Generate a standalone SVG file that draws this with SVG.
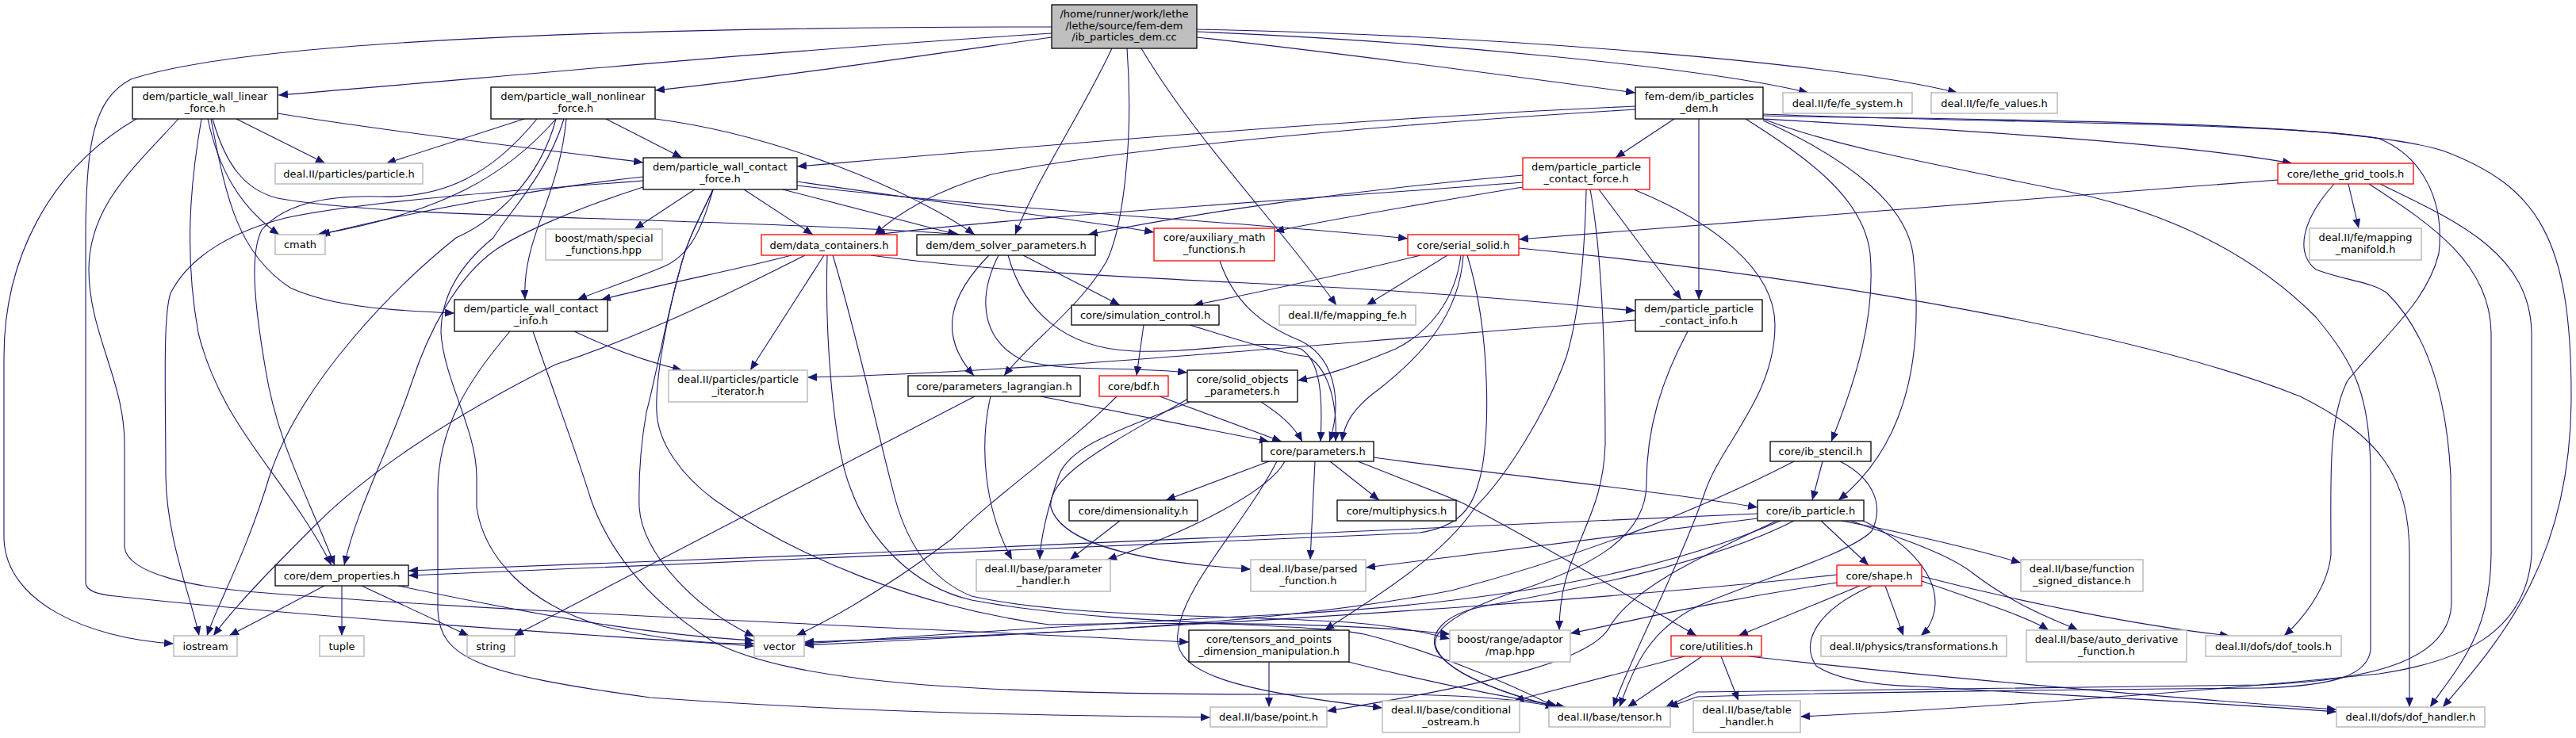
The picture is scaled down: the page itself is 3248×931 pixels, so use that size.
<svg xmlns="http://www.w3.org/2000/svg" width="3248" height="931" viewBox="0 0 3248 931">
<defs>
<marker id="arr" viewBox="0 0 12 10" refX="12" refY="5" markerWidth="12" markerHeight="10" markerUnits="userSpaceOnUse" orient="auto"><path d="M0,0 L12,5 L0,10 Z" fill="#191970"/></marker>
<style>
.e path{fill:none;stroke:#191970;stroke-width:1.1;marker-end:url(#arr)}
.n rect{fill:#fff;stroke:#000;stroke-width:1.3}
.g rect{fill:#fff;stroke:#bfbfbf;stroke-width:1.6}
.r rect{fill:#fff;stroke:#ff0000;stroke-width:1.3}
.root rect{fill:#bfbfbf;stroke:#000;stroke-width:1.3}
text{font-family:"DejaVu Sans","Liberation Sans",sans-serif;font-size:13px;text-anchor:middle;fill:#000}
</style>
</defs>
<rect width="3248" height="931" fill="#fff"/>
<g id="edges" class="e">
<path d="M1326,42 C1000,62 620,98 351,120"/>
<path d="M1326,47 C1150,72 960,100 826,114"/>
<path d="M1326,34 C900,34 330,45 165,100 C118,125 108,180 108,300 L108,735 C108,746 125,750 145,752 C400,780 760,802 951,815"/>
<path d="M1509,47 C1700,68 1900,95 2062,117"/>
<path d="M1509,40 C1800,52 2150,85 2280,117"/>
<path d="M1509,37 C1900,45 2320,80 2468,117"/>
<path d="M1402,61 C1360,150 1310,220 1280,296"/>
<path d="M1421,61 C1430,180 1415,290 1395,330 C1360,390 1300,430 1266,474"/>
<path d="M1439,61 C1510,180 1610,280 1685,385"/>
<path d="M172,150 C60,215 5,330 5,450 L5,680 C8,760 110,805 219,812"/>
<path d="M225,150 C170,210 112,260 112,340 C112,420 157,480 157,560 L157,690 C160,725 250,742 335,748 C600,770 1100,790 1499,810"/>
<path d="M254,150 C240,230 232,320 250,420 C280,540 360,600 418,713"/>
<path d="M262,150 C275,210 300,260 352,296"/>
<path d="M266,150 C285,250 300,320 366,363 C420,388 500,392 573,395"/>
<path d="M298,150 L410,206"/>
<path d="M268,150 C285,210 310,240 350,250 C450,268 650,272 820,278 C1000,284 1150,290 1210,296"/>
<path d="M350,143 C500,168 700,190 811,205"/>
<path d="M661,150 L487,206"/>
<path d="M701,150 C640,220 560,268 400,296"/>
<path d="M714,150 C705,250 658,300 662,378"/>
<path d="M764,150 L860,199"/>
<path d="M826,150 C980,170 1150,240 1229,296"/>
<path d="M677,150 C620,220 560,250 480,248 C420,246 360,255 330,290 C315,320 320,380 335,467 C350,560 390,630 422,713"/>
<path d="M701,150 C680,230 620,280 575,300 C500,360 380,480 340,600 C310,700 275,760 261,802"/>
<path d="M711,150 C690,220 640,270 622,300 C585,330 556,370 556,420 C560,480 600,540 601,600 L601,640 C610,700 660,760 760,790 C850,810 900,812 951,812"/>
<path d="M811,228 C650,240 450,255 360,275 C300,290 240,320 215,370 C205,400 209,500 209,600 C210,680 240,750 251,802"/>
<path d="M811,223 C700,235 540,262 404,296"/>
<path d="M876,239 L800,289"/>
<path d="M899,239 C885,290 870,320 840,335 C800,352 760,365 728,378"/>
<path d="M938,239 L1025,296"/>
<path d="M987,239 L1207,296"/>
<path d="M1005,229 C1200,258 1380,280 1455,293"/>
<path d="M1005,234 C1300,268 1600,282 1775,301"/>
<path d="M899,239 C880,280 868,300 860,330 C840,400 826,480 815,520 C808,560 805,600 806,640 C810,700 880,770 951,803"/>
<path d="M899,239 C880,280 868,300 860,330 C840,400 826,480 828,520 C830,560 860,600 900,630 C1000,700 1150,765 1323,788 C1500,785 1700,785 1828,800"/>
<path d="M811,236 C720,265 655,295 625,315 C575,350 540,420 520,480 C490,570 450,640 434,713"/>
<path d="M998,322 C930,340 850,355 758,378"/>
<path d="M1015,322 C920,370 820,420 700,460 C560,530 460,600 400,660 C350,710 300,760 269,802"/>
<path d="M1039,322 L946,467"/>
<path d="M1043,322 C1040,420 1050,560 1072,615 C1095,680 1150,740 1225,757 C1400,790 1650,785 1720,800 C1800,820 1900,860 1961,892"/>
<path d="M1050,322 C1080,420 1110,560 1125,615 C1140,680 1170,730 1225,752 C1350,780 1550,775 1700,785 C1760,790 1800,798 1828,806"/>
<path d="M1098,322 C1300,350 1600,355 1800,370 C1950,380 2010,388 2062,392"/>
<path d="M1290,322 L1412,385"/>
<path d="M1247,322 C1200,370 1180,420 1228,474"/>
<path d="M1259,322 C1230,380 1240,430 1290,455 C1350,470 1420,462 1497,470"/>
<path d="M1271,322 C1290,390 1340,440 1430,443 C1520,446 1590,425 1640,440 C1665,455 1668,500 1665,557"/>
<path d="M1538,329 C1555,380 1590,410 1640,430 C1690,455 1690,520 1676,557"/>
<path d="M1442,410 L1433,474"/>
<path d="M1500,410 C1560,428 1610,445 1650,450 C1680,470 1686,520 1684,557"/>
<path d="M1462,500 L1616,557"/>
<path d="M1408,500 C1350,560 1260,620 1200,680 C1120,740 1050,780 1004,802"/>
<path d="M1312,500 L1600,557"/>
<path d="M1229,500 L648,802"/>
<path d="M1249,500 C1235,560 1240,640 1276,706"/>
<path d="M1590,507 C1610,520 1630,535 1642,557"/>
<path d="M1500,507 C1420,540 1350,560 1335,600 C1318,650 1312,680 1311,706"/>
<path d="M1498,503 C1400,560 1320,600 1325,640 C1340,690 1450,710 1577,718"/>
<path d="M1791,322 C1700,345 1580,370 1505,385"/>
<path d="M1825,322 L1723,385"/>
<path d="M1842,322 C1835,380 1800,420 1760,440 C1700,465 1670,474 1636,480"/>
<path d="M1845,322 C1840,400 1790,450 1740,490 C1705,515 1695,535 1692,557"/>
<path d="M1850,322 C1880,420 1880,560 1864,610 C1855,645 1835,665 1790,672 C1300,695 800,714 515,726"/>
<path d="M1915,313 C2300,350 2700,420 2900,500 C3000,550 3038,600 3038,700 L3038,892"/>
<path d="M1920,221 C1700,240 1500,270 1372,296"/>
<path d="M1920,230 C1600,255 1300,272 1104,296"/>
<path d="M1920,236 C1800,256 1680,276 1607,292"/>
<path d="M2016,239 L2120,378"/>
<path d="M2060,239 C2160,280 2238,340 2238,410 C2238,500 2170,560 2150,620 C2115,720 2060,820 2034,892"/>
<path d="M2000,239 C1998,330 1990,400 1975,450 C1950,520 1900,600 1860,640 C1820,700 1740,750 1670,795"/>
<path d="M2005,239 C2020,320 2024,450 2024,560 C2022,620 2005,650 1985,700 C1972,730 1966,760 1966,795"/>
<path d="M2062,134 C1700,150 1300,185 1005,210"/>
<path d="M2062,138 C1700,160 1400,190 1250,220 C1180,240 1130,270 1103,296"/>
<path d="M2111,150 L2037,199"/>
<path d="M2142,150 L2142,378"/>
<path d="M2201,150 C2280,200 2350,250 2358,320 C2365,400 2340,480 2309,557"/>
<path d="M2223,152 C2330,200 2410,260 2413,330 C2425,450 2405,560 2318,631"/>
<path d="M2223,150 C2450,163 2750,180 2890,206"/>
<path d="M2223,146 C2500,152 2950,150 3080,190 C3200,235 3242,300 3242,500 C3242,700 3160,800 3080,892"/>
<path d="M2223,144 C2500,155 2900,155 3000,175 C3060,200 3082,260 3075,320 C3060,380 3010,420 2960,480 C2935,530 2939,600 2939,700 C2935,740 2905,780 2880,802"/>
<path d="M2223,150 C2300,180 2400,200 2600,240 C2750,270 2850,330 2920,400 C2970,460 2989,500 2989,600 L2989,820 C2985,850 2950,865 2850,868 C2600,870 2300,874 2140,879 L2104,892"/>
<path d="M2872,227 C2500,255 2100,285 1915,302"/>
<path d="M2961,232 L2974,288"/>
<path d="M2943,232 C2900,280 2895,320 2920,340 C2960,355 2990,355 3010,370 C3060,420 3085,500 3090,600 L3091,760 C3090,830 3000,858 2850,864 C2600,868 2300,870 2140,873 L2100,892"/>
<path d="M2987,232 C3060,280 3140,330 3141,420 L3141,700 C3140,800 3100,840 3064,892"/>
<path d="M3001,232 C3100,280 3190,320 3192,420 L3192,700 C3185,800 3100,835 3000,850 C2700,880 2400,898 2270,904"/>
<path d="M2062,404 C1700,430 1300,470 1018,476"/>
<path d="M2128,418 C2095,480 2076,540 2076,610 C2076,680 2000,715 1930,740 C1850,765 1805,790 1810,815 C1820,850 1900,875 1961,892"/>
<path d="M2298,582 L2285,631"/>
<path d="M2262,582 C2150,640 2000,700 1830,745 C1600,790 1300,800 1014,810"/>
<path d="M2320,582 C2365,605 2375,640 2360,670 C2330,700 2220,730 2140,765 C2080,795 2060,840 2042,892"/>
<path d="M2216,648 C1800,665 1100,700 515,720"/>
<path d="M2216,654 C2000,680 1850,700 1722,716"/>
<path d="M2245,657 C2100,720 1900,760 1620,775 C1400,785 1200,800 1014,812"/>
<path d="M2262,657 C2150,715 1950,750 1870,765 C1820,775 1800,800 1812,822 C1830,850 1900,878 1966,892"/>
<path d="M2240,657 C2150,700 2060,740 2030,790 C2010,830 1900,860 1673,897"/>
<path d="M2296,657 L2356,713"/>
<path d="M2322,657 C2400,672 2480,690 2548,710"/>
<path d="M2333,657 C2400,680 2460,700 2490,725 C2550,770 2600,785 2620,795"/>
<path d="M2345,655 C2400,680 2440,720 2440,760 C2440,780 2430,795 2422,802"/>
<path d="M2345,739 L2192,802"/>
<path d="M2377,739 L2400,802"/>
<path d="M2423,733 C2500,760 2560,780 2583,795"/>
<path d="M2423,727 C2550,760 2700,790 2811,802"/>
<path d="M2316,735 C2150,760 2050,785 1980,799"/>
<path d="M2316,725 C2000,760 1500,790 1014,814"/>
<path d="M2360,739 C2290,770 2270,810 2290,840 C2320,860 2380,865 2420,866 C2650,880 2850,890 2946,898"/>
<path d="M2124,828 L1909,884"/>
<path d="M2146,828 L2052,892"/>
<path d="M2170,828 L2192,884"/>
<path d="M2205,828 C2400,850 2700,878 2946,895"/>
<path d="M1600,582 L1470,631"/>
<path d="M1620,582 C1600,620 1500,670 1396,706"/>
<path d="M1658,582 L1652,706"/>
<path d="M1677,582 L1739,631"/>
<path d="M1732,577 C1900,600 2100,620 2216,640"/>
<path d="M1712,582 C1770,605 1810,620 1845,635 C1950,690 2050,750 2139,802"/>
<path d="M1610,582 C1570,660 1490,740 1485,800 C1478,850 1560,872 1743,893"/>
<path d="M1412,657 L1349,706"/>
<path d="M1600,835 L1600,892"/>
<path d="M1700,835 C1800,860 1900,880 1974,892"/>
<path d="M409,739 L289,802"/>
<path d="M431,739 L431,802"/>
<path d="M456,739 L591,802"/>
<path d="M502,739 C650,770 800,800 951,808"/>
<path d="M724,418 C770,440 810,455 860,467"/>
<path d="M643,418 C590,480 552,540 552,620 L552,770 C555,830 600,850 820,880 C1100,900 1350,903 1526,905"/>
<path d="M672,418 C700,500 730,580 745,630 C770,700 820,760 900,810 C1000,860 1200,876 1620,876 C1800,874 1900,878 1961,892"/>
</g>
<g id="n_root" class="root"><rect x="1326" y="6" width="183" height="55"/><text x="1417.5" y="22">/home/runner/work/lethe</text><text x="1417.5" y="37">/lethe/source/fem-dem</text><text x="1417.5" y="51">/ib_particles_dem.cc</text></g>
<g id="n_linear" class="n"><rect x="167" y="110" width="183" height="40"/><text x="258.5" y="126">dem/particle_wall_linear</text><text x="258.5" y="141">_force.h</text></g>
<g id="n_nonlinear" class="n"><rect x="619" y="110" width="207" height="40"/><text x="722.5" y="126">dem/particle_wall_nonlinear</text><text x="722.5" y="141">_force.h</text></g>
<g id="n_particle" class="g"><rect x="347" y="206" width="186" height="26"/><text x="440" y="223.5">deal.II/particles/particle.h</text></g>
<g id="n_cmath" class="g"><rect x="347" y="296" width="63" height="25"/><text x="378.5" y="313">cmath</text></g>
<g id="n_boost_special" class="g"><rect x="688" y="289" width="147" height="39"/><text x="761.5" y="305">boost/math/special</text><text x="761.5" y="320">_functions.hpp</text></g>
<g id="n_pw_cf" class="n"><rect x="811" y="199" width="194" height="40"/><text x="908" y="215">dem/particle_wall_contact</text><text x="908" y="230">_force.h</text></g>
<g id="n_data_containers" class="r"><rect x="960" y="296" width="171" height="26"/><text x="1045.5" y="313.5">dem/data_containers.h</text></g>
<g id="n_dem_solver" class="n"><rect x="1156" y="296" width="225" height="26"/><text x="1268.5" y="313.5">dem/dem_solver_parameters.h</text></g>
<g id="n_aux_math" class="r"><rect x="1455" y="288" width="152" height="41"/><text x="1531" y="304">core/auxiliary_math</text><text x="1531" y="319">_functions.h</text></g>
<g id="n_ibpd_h" class="n"><rect x="2062" y="110" width="161" height="40"/><text x="2142.5" y="126">fem-dem/ib_particles</text><text x="2142.5" y="141">_dem.h</text></g>
<g id="n_fe_system" class="g"><rect x="2248" y="117" width="163" height="26"/><text x="2329.5" y="134.5">deal.II/fe/fe_system.h</text></g>
<g id="n_pp_cf" class="r"><rect x="1920" y="199" width="160" height="40"/><text x="2000" y="215">dem/particle_particle</text><text x="2000" y="230">_contact_force.h</text></g>
<g id="n_serial_solid" class="r"><rect x="1775" y="296" width="140" height="26"/><text x="1845" y="313.5">core/serial_solid.h</text></g>
<g id="n_fe_values" class="g"><rect x="2435" y="117" width="159" height="26"/><text x="2514.5" y="134.5">deal.II/fe/fe_values.h</text></g>
<g id="n_lethe_grid_tools" class="r"><rect x="2872" y="206" width="171" height="26"/><text x="2957.5" y="223.5">core/lethe_grid_tools.h</text></g>
<g id="n_mapping_manifold" class="g"><rect x="2912" y="288" width="141" height="40"/><text x="2982.5" y="304">deal.II/fe/mapping</text><text x="2982.5" y="319">_manifold.h</text></g>
<g id="n_pw_ci" class="n"><rect x="573" y="378" width="193" height="40"/><text x="669.5" y="394">dem/particle_wall_contact</text><text x="669.5" y="409">_info.h</text></g>
<g id="n_particle_iterator" class="g"><rect x="843" y="467" width="175" height="40"/><text x="930.5" y="483">deal.II/particles/particle</text><text x="930.5" y="498">_iterator.h</text></g>
<g id="n_simulation_control" class="n"><rect x="1351" y="385" width="186" height="25"/><text x="1444" y="402">core/simulation_control.h</text></g>
<g id="n_parameters_lagrangian" class="n"><rect x="1145" y="474" width="217" height="26"/><text x="1253.5" y="491.5">core/parameters_lagrangian.h</text></g>
<g id="n_bdf" class="r"><rect x="1386" y="474" width="87" height="26"/><text x="1429.5" y="491.5">core/bdf.h</text></g>
<g id="n_solid_objects" class="n"><rect x="1497" y="467" width="139" height="40"/><text x="1566.5" y="483">core/solid_objects</text><text x="1566.5" y="498">_parameters.h</text></g>
<g id="n_parameters" class="n"><rect x="1591" y="557" width="141" height="25"/><text x="1661.5" y="574">core/parameters.h</text></g>
<g id="n_mapping_fe" class="g"><rect x="1613" y="385" width="172" height="25"/><text x="1699" y="402">deal.II/fe/mapping_fe.h</text></g>
<g id="n_pp_ci" class="n"><rect x="2062" y="378" width="160" height="40"/><text x="2142" y="394">dem/particle_particle</text><text x="2142" y="409">_contact_info.h</text></g>
<g id="n_ib_stencil" class="n"><rect x="2232" y="557" width="127" height="25"/><text x="2295.5" y="574">core/ib_stencil.h</text></g>
<g id="n_dem_properties" class="n"><rect x="347" y="713" width="168" height="26"/><text x="431" y="730.5">core/dem_properties.h</text></g>
<g id="n_iostream" class="g"><rect x="219" y="802" width="80" height="26"/><text x="259" y="819.5">iostream</text></g>
<g id="n_tuple" class="g"><rect x="403" y="802" width="56" height="26"/><text x="431" y="819.5">tuple</text></g>
<g id="n_string" class="g"><rect x="589" y="802" width="60" height="26"/><text x="619" y="819.5">string</text></g>
<g id="n_dimensionality" class="n"><rect x="1348" y="631" width="162" height="26"/><text x="1429" y="648.5">core/dimensionality.h</text></g>
<g id="n_parameter_handler" class="g"><rect x="1231" y="706" width="169" height="40"/><text x="1315.5" y="722">deal.II/base/parameter</text><text x="1315.5" y="737">_handler.h</text></g>
<g id="n_vector" class="g"><rect x="951" y="802" width="63" height="26"/><text x="982.5" y="819.5">vector</text></g>
<g id="n_tensors_points" class="n"><rect x="1499" y="795" width="202" height="40"/><text x="1600" y="811">core/tensors_and_points</text><text x="1600" y="826">_dimension_manipulation.h</text></g>
<g id="n_parsed_function" class="g"><rect x="1577" y="706" width="145" height="40"/><text x="1649.5" y="722">deal.II/base/parsed</text><text x="1649.5" y="737">_function.h</text></g>
<g id="n_point" class="g"><rect x="1526" y="892" width="147" height="25"/><text x="1599.5" y="909">deal.II/base/point.h</text></g>
<g id="n_multiphysics" class="n"><rect x="1686" y="631" width="150" height="26"/><text x="1761" y="648.5">core/multiphysics.h</text></g>
<g id="n_ib_particle" class="n"><rect x="2216" y="631" width="134" height="26"/><text x="2283" y="648.5">core/ib_particle.h</text></g>
<g id="n_shape" class="r"><rect x="2316" y="713" width="107" height="26"/><text x="2369.5" y="730.5">core/shape.h</text></g>
<g id="n_map_hpp" class="g"><rect x="1828" y="795" width="152" height="40"/><text x="1904" y="811">boost/range/adaptor</text><text x="1904" y="826">/map.hpp</text></g>
<g id="n_utilities" class="r"><rect x="2107" y="802" width="114" height="26"/><text x="2164" y="819.5">core/utilities.h</text></g>
<g id="n_transformations" class="g"><rect x="2296" y="802" width="234" height="26"/><text x="2413" y="819.5">deal.II/physics/transformations.h</text></g>
<g id="n_cond_ostream" class="g"><rect x="1743" y="884" width="173" height="40"/><text x="1829.5" y="900">deal.II/base/conditional</text><text x="1829.5" y="915">_ostream.h</text></g>
<g id="n_tensor" class="g"><rect x="1953" y="892" width="153" height="25"/><text x="2029.5" y="909">deal.II/base/tensor.h</text></g>
<g id="n_table_handler" class="g"><rect x="2135" y="884" width="135" height="40"/><text x="2202.5" y="900">deal.II/base/table</text><text x="2202.5" y="915">_handler.h</text></g>
<g id="n_func_signed_dist" class="g"><rect x="2548" y="706" width="154" height="40"/><text x="2625" y="722">deal.II/base/function</text><text x="2625" y="737">_signed_distance.h</text></g>
<g id="n_auto_deriv" class="g"><rect x="2555" y="795" width="202" height="40"/><text x="2656" y="811">deal.II/base/auto_derivative</text><text x="2656" y="826">_function.h</text></g>
<g id="n_dof_tools" class="g"><rect x="2781" y="802" width="171" height="26"/><text x="2866.5" y="819.5">deal.II/dofs/dof_tools.h</text></g>
<g id="n_dof_handler" class="g"><rect x="2946" y="892" width="187" height="25"/><text x="3039.5" y="909">deal.II/dofs/dof_handler.h</text></g>
</svg>
